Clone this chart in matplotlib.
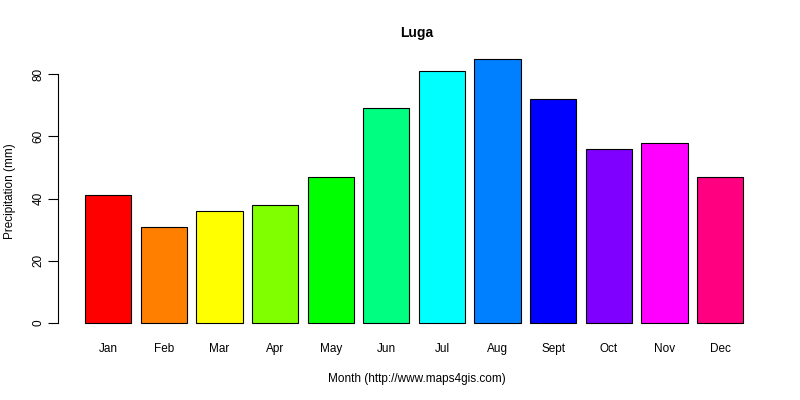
import matplotlib
matplotlib.use("Agg")
import matplotlib.pyplot as plt
import numpy as np

plt.rcParams["font.family"] = ["Liberation Sans", "DejaVu Sans"]

months = ["Jan", "Feb", "Mar", "Apr", "May", "Jun", "Jul", "Aug", "Sept", "Oct", "Nov", "Dec"]
precip = [41, 31, 36, 38, 47, 69, 81, 85, 72, 56, 58, 47]
colors = ["#FF0000", "#FF8000", "#FFFF00", "#80FF00", "#00FF00", "#00FF80",
          "#00FFFF", "#0080FF", "#0000FF", "#8000FF", "#FF00FF", "#FF0080"]

fig = plt.figure(figsize=(8, 4), dpi=100)
ax = fig.add_axes([0.073, 0.166, 0.896, 0.714])

x = 0.2 + 1.2 * np.arange(len(months)) + 0.5
ax.bar(x, precip, width=1.0, color=colors, edgecolor="black", linewidth=0.8)
ax.set_xlim(-0.374, 15.09)
ax.set_ylim(-3.4, 88.4)

for s in ["top", "right", "bottom"]:
    ax.spines[s].set_visible(False)
ax.spines["left"].set_bounds(0, 80)
ax.set_yticks([0, 20, 40, 60, 80])
ax.set_yticklabels(["0", "20", "40", "60", "80"], rotation=90, va="center", fontsize=8.5)
ax.tick_params(axis="y", length=7, pad=3)
ax.set_xticks(x)
ax.set_xticklabels(months, fontsize=8.5)
ax.tick_params(axis="x", length=0, pad=7)

ax.set_title("Luga", fontsize=10, fontweight="bold", pad=8)
ax.set_xlabel("Month (http://www.maps4gis.com)", fontsize=8.5, labelpad=13)
ax.set_ylabel("Precipitation (mm)", fontsize=8.5, labelpad=12)

fig.savefig("out.png", dpi=100)
